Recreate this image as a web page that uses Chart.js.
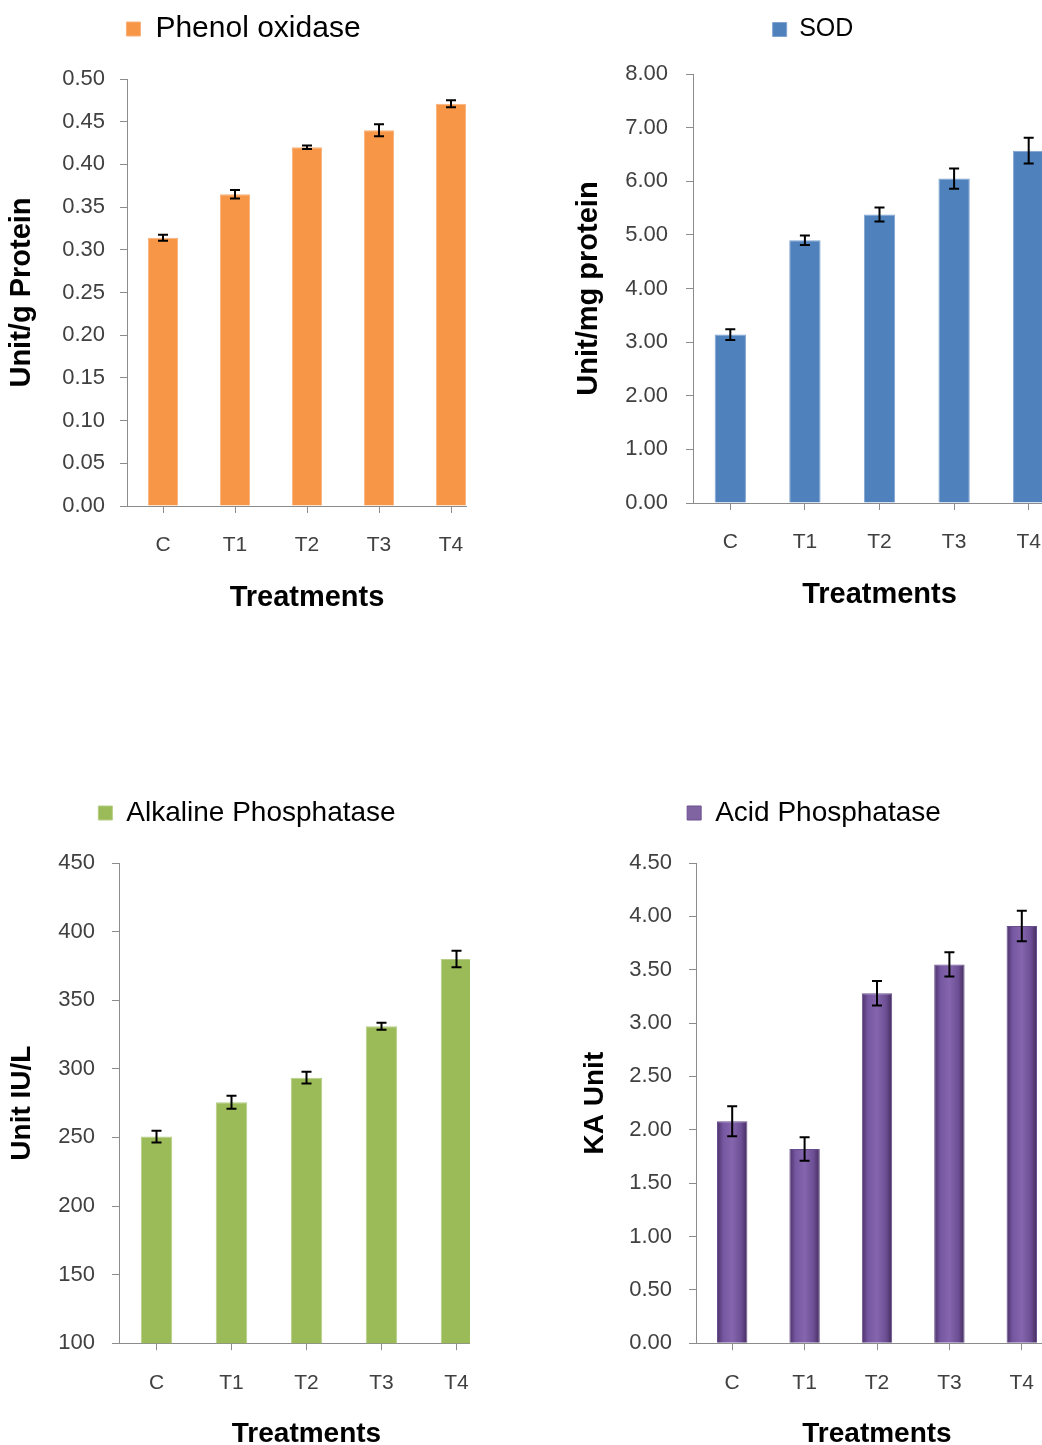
<!DOCTYPE html>
<html>
<head>
<meta charset="utf-8">
<script src="https://cdn.jsdelivr.net/npm/chart.js@4.4.1/dist/chart.umd.min.js"></script>
<style>
body { margin:0; width:1042px; height:1445px; overflow:hidden; background:#fff; position:relative; }
.box { position:absolute; overflow:hidden; }
canvas { display:block; }
</style>
</head>
<body>
<div class="box" style="left:0;top:0;width:467px;height:640px"><canvas id="phenol" width="494" height="619"></canvas></div>
<div class="box" style="left:560px;top:0;width:482px;height:640px"><canvas id="sod" width="523" height="616"></canvas></div>
<div class="box" style="left:0;top:780px;width:470px;height:665px"><canvas id="alp" width="500" height="675"></canvas></div>
<div class="box" style="left:570px;top:780px;width:472px;height:665px"><canvas id="acp" width="493" height="675"></canvas></div>
<script>
const treatments = ['C', 'T1', 'T2', 'T3', 'T4'];

const phenolValues = [0.314, 0.365, 0.420, 0.440, 0.471];
const phenolErrors = [0.0035, 0.005, 0.002, 0.007, 0.004];

const sodValues = [3.14, 4.90, 5.38, 6.05, 6.57];
const sodErrors = [0.10, 0.09, 0.13, 0.19, 0.24];

const alpValues = [250.6, 275.6, 293.5, 331.0, 380.0];
const alpErrors = [4.3, 4.8, 4.3, 2.5, 6.0];

const acpValues = [2.08, 1.82, 3.28, 3.55, 3.91];
const acpErrors = [0.14, 0.11, 0.115, 0.113, 0.143];

const FONT = '"Liberation Sans", Arial, sans-serif';
const axisGray = '#8c8c8c';
const tickColor = '#404040';
const BAR_PCT = 0.42;

// black whiskers drawn from the y scale
const errorBars = {
    id: 'errorBars',
    afterDatasetsDraw(chart, args, opts) {
        const errs = opts.errors;
        if (!errs) return;
        const meta = chart.getDatasetMeta(0);
        const y = chart.scales.y;
        const ctx = chart.ctx;
        ctx.save();
        ctx.strokeStyle = '#000';
        ctx.lineWidth = 2;
        meta.data.forEach((bar, i) => {
            const v = chart.data.datasets[0].data[i];
            const top = y.getPixelForValue(v + errs[i]);
            const bot = y.getPixelForValue(v - errs[i]);
            ctx.beginPath();
            ctx.moveTo(bar.x, top); ctx.lineTo(bar.x, bot);
            ctx.moveTo(bar.x - 5, top); ctx.lineTo(bar.x + 5, top);
            ctx.moveTo(bar.x - 5, bot); ctx.lineTo(bar.x + 5, bot);
            ctx.stroke();
        });
        ctx.restore();
    }
};

function acpFill(c) {
    const x = c.chart.scales.x;
    if (!x || c.dataIndex === undefined || !x.width) return '#8064A2';
    const cx = x.getPixelForValue(c.dataIndex);
    const half = x.width / treatments.length * BAR_PCT / 2;
    const g = c.chart.ctx.createLinearGradient(cx - half, 0, cx + half, 0);
    g.addColorStop(0, '#4a3168');
    g.addColorStop(0.2, '#7556a0');
    g.addColorStop(0.5, '#8566ae');
    g.addColorStop(0.8, '#6b4e93');
    g.addColorStop(1, '#432c5c');
    return g;
}

function buildChart(id, o) {
    return new Chart(document.getElementById(id), {
        type: 'bar',
        data: {
            labels: treatments,
            datasets: [{
                label: o.label,
                data: o.values,
                backgroundColor: o.color,
                borderColor: o.border,
                borderWidth: 1,
                categoryPercentage: 1,
                barPercentage: BAR_PCT
            }]
        },
        plugins: [errorBars],
        options: {
            responsive: false,
            animation: false,
            layout: { padding: { top: o.padTop, right: o.padRight, left: 0, bottom: 0 } },
            plugins: {
                legend: {
                    labels: {
                        font: { family: FONT, size: o.legendSize },
                        color: '#000',
                        boxWidth: 14,
                        boxHeight: 14,
                        generateLabels: chart => {
                            const items = Chart.defaults.plugins.legend.labels.generateLabels(chart);
                            if (o.legendFill) items.forEach(it => { it.fillStyle = o.legendFill; });
                            return items;
                        }
                    }
                },
                // empty title used as a gap under the legend
                title: { display: true, text: '', weight: 500, font: { size: 10 }, padding: { top: o.gap - 12, bottom: 0 } },
                tooltip: { enabled: false },
                errorBars: { errors: o.errors }
            },
            scales: {
                x: {
                    grid: { offset: false, drawOnChartArea: false, tickLength: 7, color: axisGray },
                    border: { color: axisGray },
                    ticks: { padding: 20, font: { family: FONT, size: 21 }, color: tickColor },
                    title: {
                        display: true, text: 'Treatments', color: '#000',
                        font: { family: FONT, size: o.titleSize, weight: 'bold' },
                        padding: { top: 2, bottom: 4 }
                    }
                },
                y: {
                    min: o.min, max: o.max,
                    ticks: {
                        stepSize: o.step,
                        callback: v => v.toFixed(o.decimals),
                        padding: o.tickPad,
                        font: { family: FONT, size: 22 },
                        color: tickColor
                    },
                    grid: { drawOnChartArea: false, tickLength: 7, color: axisGray },
                    border: { color: axisGray },
                    title: {
                        display: true, text: o.yTitle, color: '#000',
                        font: { family: FONT, size: o.titleSize, weight: 'bold' },
                        padding: { top: o.yTitlePad, bottom: 0 }
                    },
                    afterFit: s => { s.width = o.axisWidth; }
                }
            }
        }
    });
}

buildChart('phenol', {
    label: 'Phenol oxidase', values: phenolValues, errors: phenolErrors,
    color: '#F79646', border: '#f9b07a', legendSize: 30,
    min: 0, max: 0.5, step: 0.05, decimals: 2,
    yTitle: 'Unit/g Protein', titleSize: 29, yTitlePad: 5,
    axisWidth: 127, tickPad: 15, padTop: 4, padRight: 7, gap: 25
});

buildChart('sod', {
    label: 'SOD', values: sodValues, errors: sodErrors,
    color: '#4F81BD', border: '#7fa3d0', legendSize: 25,
    min: 0, max: 8, step: 1, decimals: 2,
    yTitle: 'Unit/mg protein', titleSize: 29, yTitlePad: 12,
    axisWidth: 133, tickPad: 18, padTop: 7, padRight: 17, gap: 22
});

buildChart('alp', {
    label: 'Alkaline Phosphatase', values: alpValues, errors: alpErrors,
    color: '#9BBB59', border: '#b6ce86', legendSize: 28,
    min: 100, max: 450, step: 50, decimals: 0,
    yTitle: 'Unit IU/L', titleSize: 28, yTitlePad: 5,
    axisWidth: 119, tickPad: 17, padTop: 9, padRight: 6, gap: 26
});

buildChart('acp', {
    label: 'Acid Phosphatase', values: acpValues, errors: acpErrors,
    color: acpFill, legendFill: '#8064A2', border: '#6a4f8f', legendSize: 28,
    min: 0, max: 4.5, step: 0.5, decimals: 2,
    yTitle: 'KA Unit', titleSize: 28, yTitlePad: 8,
    axisWidth: 126, tickPad: 17, padTop: 9, padRight: 5, gap: 26
});
</script>
</body>
</html>
